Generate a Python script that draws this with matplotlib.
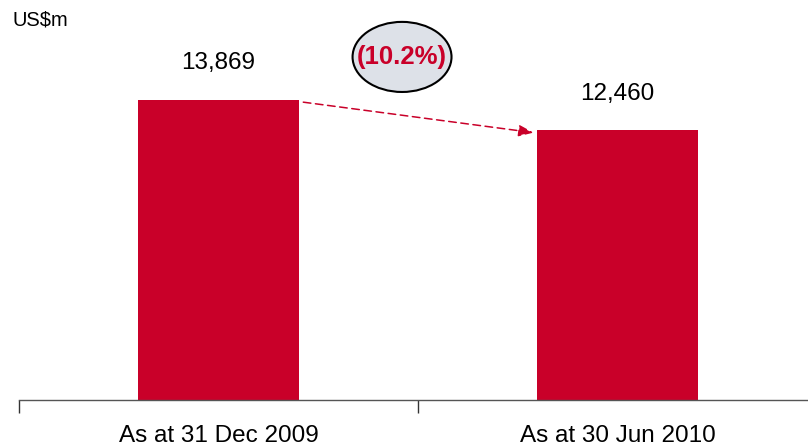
import matplotlib
matplotlib.use("Agg")
import matplotlib.pyplot as plt
from matplotlib.patches import Ellipse

categories = ["As at 31 Dec 2009", "As at 30 Jun 2010"]
values = [13869, 12460]
value_labels = ["13,869", "12,460"]
change_label = "(10.2%)"
unit_label = "US$m"

RED = "#C90029"
plt.rcParams["font.family"] = ["Liberation Sans", "DejaVu Sans"]

fig = plt.figure(figsize=(8.08, 4.47), dpi=100)
ax = fig.add_axes([19 / 808, 47 / 447, 789 / 808, 400 / 447])

x = list(range(len(categories)))
bar_w = 0.405
ax.bar(x, values, width=bar_w, color=RED, zorder=2)

# axis styling (ticks first, limits afterwards so they are not expanded)
for s in ["top", "right", "left"]:
    ax.spines[s].set_visible(False)
ax.spines["bottom"].set_color("#555555")
ax.spines["bottom"].set_linewidth(1.0)
ax.set_yticks([])
ax.set_xticks(x)
ax.set_xticklabels(categories, fontsize=17.5)
ax.tick_params(axis="x", which="major", length=0, pad=18)
ax.set_xticks([-0.5, 0.5, 1.5], minor=True)
ax.tick_params(axis="x", which="minor", length=9, width=1.0, color="#333333", direction="out")

ymax = 18492
ax.set_ylim(0, ymax)
ax.set_xlim(-0.5, 1.5 - 9 / 399)

# value labels above bars
for xi, v, lab in zip(x, values, value_labels):
    ax.text(xi, v + 1700, lab, ha="center", va="center", fontsize=17.5, color="black")

# dashed arrow between bar tops
ax.annotate("", xy=(1 - bar_w / 2 - 0.008, values[1] - 100),
            xytext=(bar_w / 2 + 0.01, values[0] - 100),
            arrowprops=dict(arrowstyle="-|>,head_length=0.9,head_width=0.35",
                            color=RED, lw=1.1, linestyle=(0, (5, 3)),
                            shrinkA=0, shrinkB=0), zorder=3)

# change bubble
ell = Ellipse((0.46, 15860), width=0.248, height=3240, facecolor="#DDE1E8",
              edgecolor="black", lw=1.5, zorder=4)
ax.add_patch(ell)
ax.text(0.46, 15860, change_label, ha="center", va="center", fontsize=18.5,
        fontweight="bold", color=RED, zorder=5)

fig.text(13 / 808, 1 - 20 / 447, unit_label, ha="left", va="center", fontsize=14.5)

fig.savefig("out.png", dpi=100)
